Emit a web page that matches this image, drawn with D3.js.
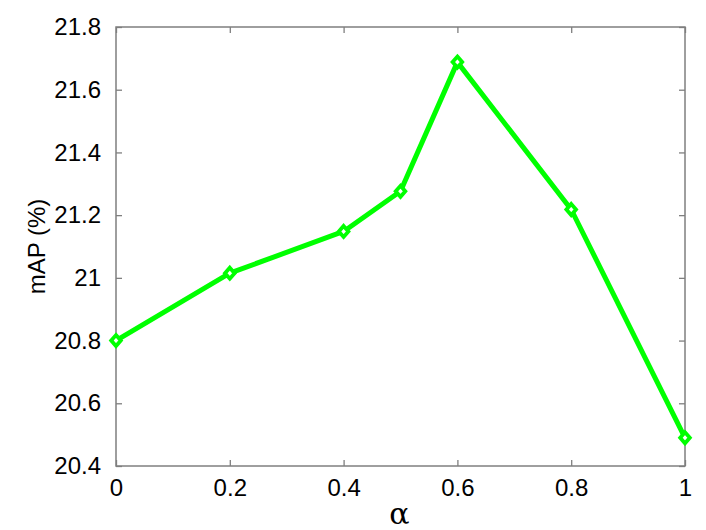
<!DOCTYPE html>
<html>
<head>
  <meta charset="utf-8">
  <title>mAP vs alpha</title>
  <script type="text/javascript" src="https://cdn.jsdelivr.net/npm/d3@7/dist/d3.min.js"></script>
  <style>
    body { margin: 0; background: #fff; }
    text { font-family: "Liberation Sans", Arial, sans-serif; fill: #000; }
  </style>
</head>
<body>
  <svg id="chart"></svg>
  <script>
    // data
    var alphas = [0, 0.2, 0.4, 0.5, 0.6, 0.8, 1];
    var mapValues = [20.80, 21.015, 21.148, 21.276, 21.688, 21.218, 20.49];
    var xTicks = [0, 0.2, 0.4, 0.6, 0.8, 1];
    var yTicks = [20.4, 20.6, 20.8, 21, 21.2, 21.4, 21.6, 21.8];

    var width = 706, height = 530;
    var box = {left: 116, right: 685, top: 27, bottom: 466};

    var svg = d3.select("#chart")
      .attr("width", width)
      .attr("height", height);

    var x = d3.scaleLinear().domain([0, 1]).range([box.left, box.right]);
    var y = d3.scaleLinear().domain([20.4, 21.8]).range([box.bottom, box.top]);

    var axisColor = "#7f7f7f";
    var tickLen = 6;
    var fontSize = "24px";

    // ticks (inward, mirrored on all four sides)
    function axisStyle(g) {
      g.select(".domain").remove();
      g.selectAll(".tick line").attr("stroke", axisColor).attr("stroke-width", 1.3);
    }

    svg.append("g")
      .attr("transform", "translate(0," + box.bottom + ")")
      .call(d3.axisBottom(x).tickValues(xTicks).tickSizeInner(-tickLen).tickSizeOuter(0)
        .tickPadding(13).tickFormat(d3.format("")))
      .call(axisStyle)
      .selectAll("text").style("font-size", fontSize).attr("fill", "#000")
      .style("font-family", "'Liberation Sans', Arial, sans-serif");

    svg.append("g")
      .attr("transform", "translate(0," + box.top + ")")
      .call(d3.axisTop(x).tickValues(xTicks).tickSizeInner(-tickLen).tickSizeOuter(0).tickFormat(""))
      .call(axisStyle);

    svg.append("g")
      .attr("transform", "translate(" + box.left + ",0)")
      .call(d3.axisLeft(y).tickValues(yTicks).tickSizeInner(-tickLen).tickSizeOuter(0)
        .tickPadding(15).tickFormat(d3.format("")))
      .call(axisStyle)
      .selectAll("text").style("font-size", fontSize).attr("fill", "#000")
      .style("font-family", "'Liberation Sans', Arial, sans-serif");

    svg.append("g")
      .attr("transform", "translate(" + box.right + ",0)")
      .call(d3.axisRight(y).tickValues(yTicks).tickSizeInner(-tickLen).tickSizeOuter(0).tickFormat(""))
      .call(axisStyle);

    // box
    svg.append("rect")
      .attr("x", box.left).attr("y", box.top)
      .attr("width", box.right - box.left).attr("height", box.bottom - box.top)
      .attr("fill", "none").attr("stroke", axisColor).attr("stroke-width", 1.5);

    // series
    var pts = alphas.map(function(a, i) { return [a, mapValues[i]]; });
    var line = d3.line().x(function(d) { return x(d[0]); }).y(function(d) { return y(d[1]); });

    svg.append("path")
      .datum(pts)
      .attr("d", line)
      .attr("fill", "none")
      .attr("stroke", "#00ff00")
      .attr("stroke-width", 5)
      .attr("stroke-linejoin", "round");

    var diamond = "M0,-5.5L4.8,0L0,5.5L-4.8,0Z";
    svg.selectAll("path.mk")
      .data(pts)
      .enter().append("path")
      .attr("class", "mk")
      .attr("d", diamond)
      .attr("transform", function(d) { return "translate(" + x(d[0]) + "," + y(d[1]) + ")"; })
      .attr("fill", "#fff")
      .attr("stroke", "#00ff00")
      .attr("stroke-width", 3.8);

    // axis labels
    svg.append("text")
      .attr("transform", "translate(45," + ((box.top + box.bottom) / 2) + ") rotate(-90)")
      .attr("text-anchor", "middle")
      .style("font-size", fontSize)
      .text("mAP (%)");

    svg.append("text")
      .attr("x", (box.left + box.right) / 2 - 1)
      .attr("y", 524)
      .attr("text-anchor", "middle")
      .style("font-family", "'DejaVu Serif', 'Liberation Serif', serif")
      .style("font-size", "30px")
      .text("α");
  </script>
</body>
</html>
